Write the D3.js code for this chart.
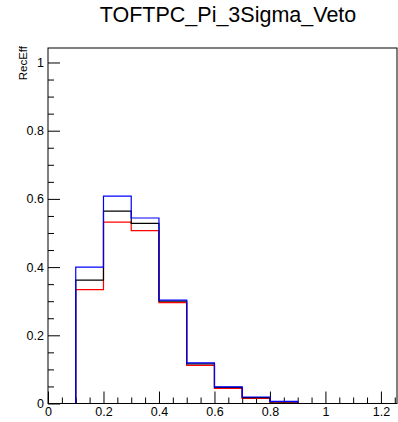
<!DOCTYPE html>
<html>
<head>
<meta charset="utf-8">
<script src="https://cdn.jsdelivr.net/npm/d3@7"></script>
<style>
  body { margin: 0; background: #fff; }
  svg { display: block; font-family: "Liberation Sans", Arial, sans-serif; }
  .axis path { display: none; }
  .axis line { stroke: #000; }
  .axis text { font-size: 12.5px; fill: #000; }
</style>
</head>
<body>
<svg width="398" height="422"></svg>
<script>
// histogram bins (lower edges) and efficiencies, one array per series
var binEdges = [0.1, 0.2, 0.3, 0.4, 0.5, 0.6, 0.7, 0.8];
var binWidth = 0.1;
var redVals   = [0.334, 0.532, 0.507, 0.296, 0.112, 0.044, 0.015, 0.004];
var blackVals = [0.362, 0.564, 0.528, 0.300, 0.116, 0.047, 0.017, 0.005];
var blueVals  = [0.400, 0.608, 0.544, 0.303, 0.119, 0.049, 0.019, 0.006];
var xTicks = [0, 0.2, 0.4, 0.6, 0.8, 1, 1.2];
var yTicks = [0, 0.2, 0.4, 0.6, 0.8, 1];
var xDomain = [0, 1.258];
var yDomain = [0, 1.0425];

var svg = d3.select('svg');
var frame = { l: 48, r: 397, t: 48, b: 403.5 };

var x = d3.scaleLinear().domain(xDomain).range([frame.l, frame.r]);
var y = d3.scaleLinear().domain(yDomain).range([frame.b, frame.t]);

// title
svg.append('text')
    .attr('x', 228)
    .attr('y', 22)
    .attr('text-anchor', 'middle')
    .style('font-size', '21.5px')
    .text('TOFTPC_Pi_3Sigma_Veto');

// y title
svg.append('text')
    .attr('transform', 'translate(26.5,46) rotate(-90)')
    .attr('text-anchor', 'end')
    .style('font-size', '11.5px')
    .text('RecEff');

var fmt = d => String(+d.toFixed(1));

// minor ticks
var xMinor = d3.range(0, 1.2501, 0.05).filter(v => Math.abs(v * 5 - Math.round(v * 5)) > 1e-6);
var yMinor = d3.range(0, 1.0001, 0.05).filter(v => Math.abs(v * 5 - Math.round(v * 5)) > 1e-6);

svg.append('g').attr('class', 'axis')
    .attr('transform', `translate(0,${frame.b})`)
    .call(d3.axisBottom(x).tickValues(xMinor).tickSize(-6).tickFormat(''));
svg.append('g').attr('class', 'axis')
    .attr('transform', `translate(0,${frame.b})`)
    .call(d3.axisBottom(x).tickValues(xTicks).tickSizeInner(-12).tickSizeOuter(0).tickPadding(4).tickFormat(fmt));

svg.append('g').attr('class', 'axis')
    .attr('transform', `translate(${frame.l},0)`)
    .call(d3.axisLeft(y).tickValues(yMinor).tickSize(-6).tickFormat(''));
svg.append('g').attr('class', 'axis')
    .attr('transform', `translate(${frame.l},0)`)
    .call(d3.axisLeft(y).tickValues(yTicks).tickSizeInner(-12).tickSizeOuter(0).tickPadding(4).tickFormat(fmt));

// the x-axis "0" sits a bit right and the y "0" a bit up, as in ROOT
svg.selectAll('.axis text').filter(d => d === 0).each(function () {
    var t = d3.select(this);
    if (t.attr('y') !== null && +t.attr('y') > 0) t.attr('x', 0);
});

// histograms as steps
var line = d3.line().x(d => x(d[0])).y(d => y(d[1])).curve(d3.curveStepAfter);
function stepPoints(vals) {
    var pts = [[0, 0]];
    binEdges.forEach((e, i) => pts.push([e, vals[i]]));
    pts.push([binEdges[binEdges.length - 1] + binWidth, 0]);
    pts.push([xDomain[1], 0]);
    return pts;
}

[[redVals, '#ff0000'], [blackVals, '#000000'], [blueVals, '#0000ff']].forEach(s => {
    svg.append('path')
        .datum(stepPoints(s[0]))
        .attr('fill', 'none')
        .attr('stroke', s[1])
        .attr('stroke-width', 1.2)
        .attr('d', line);
});

// frame
svg.append('rect')
    .attr('x', frame.l)
    .attr('y', frame.t)
    .attr('width', frame.r - frame.l)
    .attr('height', frame.b - frame.t)
    .attr('fill', 'none')
    .attr('stroke', '#000')
    .attr('stroke-width', 1);
</script>
</body>
</html>
